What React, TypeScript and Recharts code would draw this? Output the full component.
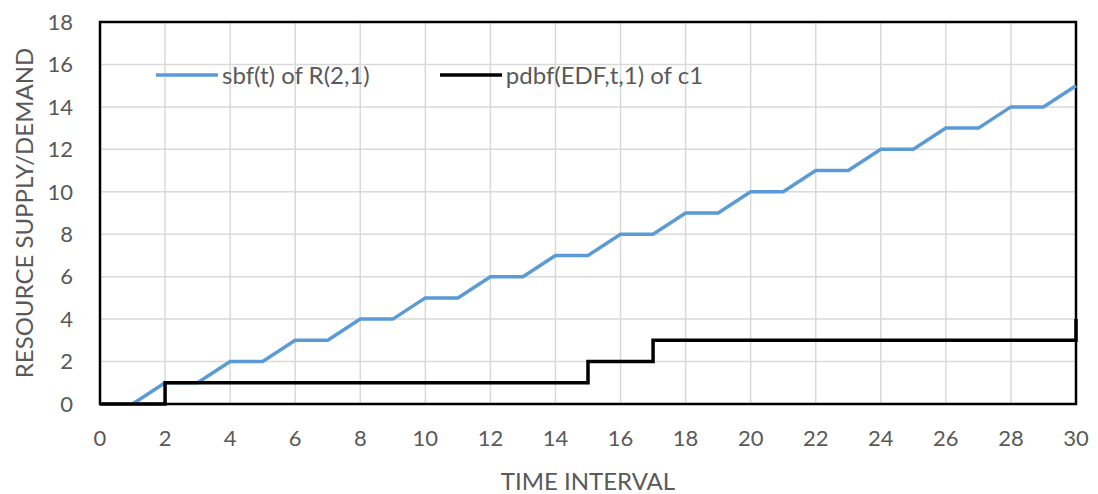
import { LineChart, Line, XAxis, YAxis, CartesianGrid, ReferenceArea } from 'recharts';

const sbfTimes = [1, 2, 3, 4, 5, 6, 7, 8, 9, 10, 11, 12, 13, 14, 15, 16, 17, 18, 19, 20, 21, 22, 23, 24, 25, 26, 27, 28, 29, 30];
const sbfValues = [0, 1, 1, 2, 2, 3, 3, 4, 4, 5, 5, 6, 6, 7, 7, 8, 8, 9, 9, 10, 10, 11, 11, 12, 12, 13, 13, 14, 14, 15];

const pdbfTimes = [0, 2, 15, 17, 30];
const pdbfValues = [0, 1, 2, 3, 4];

const xTicks = [0, 2, 4, 6, 8, 10, 12, 14, 16, 18, 20, 22, 24, 26, 28, 30];
const yTicks = [0, 2, 4, 6, 8, 10, 12, 14, 16, 18];

const sbfData = sbfTimes.map((t, i) => ({ t, v: sbfValues[i] }));
const pdbfData = pdbfTimes.map((t, i) => ({ t, v: pdbfValues[i] }));

const series = [
  { name: 'sbf(t) of R(2,1)', color: '#5b9bd5' },
  { name: 'pdbf(EDF,t,1) of c1', color: '#000' },
];

const FONT = 'Lato, "Open Sans", sans-serif';
const GRAY = '#595959';

function ChartLegend() {
  return (
    <div
      style={{
        position: 'absolute',
        top: 59,
        left: 156,
        display: 'flex',
        fontFamily: FONT,
        fontSize: 24,
        color: GRAY,
        lineHeight: '32px',
      }}
    >
      {series.map((s) => (
        <div key={s.name} style={{ display: 'flex', alignItems: 'center', marginRight: 70 }}>
          <svg width={62} height={10} style={{ marginRight: 4 }}>
            <line x1={0} y1={5} x2={62} y2={5} stroke={s.color} strokeWidth={3.5} />
          </svg>
          <span>{s.name}</span>
        </div>
      ))}
    </div>
  );
}

export default function App() {
  return (
    <div style={{ position: 'absolute', left: 0, top: 0, width: 1098, height: 494, background: '#fff' }}>
      <LineChart width={1098} height={494} margin={{ top: 22, right: 22, bottom: 0, left: 0 }}>
        <CartesianGrid stroke="#d9d9d9" strokeWidth={1.5} />
        <XAxis
          type="number"
          dataKey="t"
          domain={[0, 30]}
          ticks={xTicks}
          interval={0}
          axisLine={false}
          tickLine={false}
          tickSize={0}
          tickMargin={26}
          height={90}
          tick={{ fontSize: 22, fill: GRAY, fontFamily: FONT }}
          label={{ value: 'TIME INTERVAL', position: 'insideBottom', offset: 4, fontSize: 24, fill: GRAY, fontFamily: FONT }}
        />
        <YAxis
          type="number"
          domain={[0, 18]}
          ticks={yTicks}
          interval={0}
          axisLine={false}
          tickLine={false}
          tickSize={0}
          tickMargin={27}
          width={100}
          tick={{ fontSize: 22, fill: GRAY, fontFamily: FONT }}
          label={{ value: 'RESOURCE SUPPLY/DEMAND', angle: -90, position: 'insideLeft', offset: 24, fontSize: 24, fill: GRAY, fontFamily: FONT, style: { textAnchor: 'middle' } }}
        />
        <ReferenceArea x1={0} x2={30} y1={0} y2={18} fill="none" stroke="#000" strokeWidth={2.5} />
        <Line
          data={sbfData}
          dataKey="v"
          name={series[0].name}
          type="linear"
          stroke={series[0].color}
          strokeWidth={3.5}
          dot={false}
          isAnimationActive={false}
        />
        <Line
          data={pdbfData}
          dataKey="v"
          name={series[1].name}
          type="stepAfter"
          stroke={series[1].color}
          strokeWidth={3.5}
          dot={false}
          isAnimationActive={false}
        />
      </LineChart>
      <ChartLegend />
    </div>
  );
}
